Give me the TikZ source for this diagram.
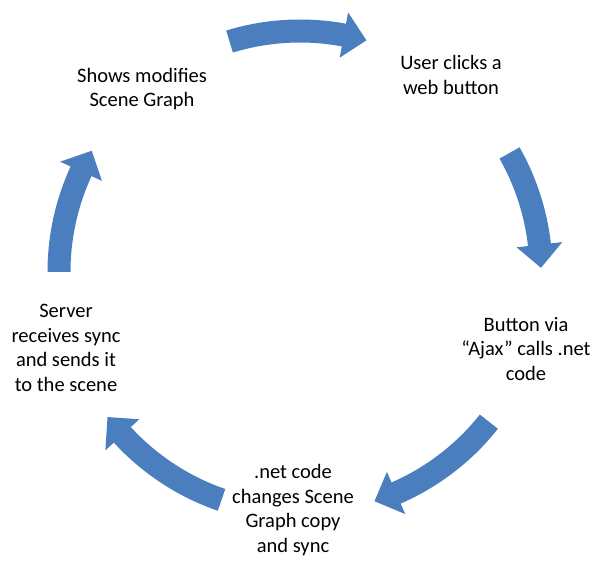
\documentclass[tikz,border=0pt]{standalone}
\usepackage{fontspec}
\setmainfont{Carlito}
\definecolor{arrowblue}{HTML}{4A7EBF}
\tikzset{
  lbl/.style={align=center, font=\fontsize{20.5}{24.5}\selectfont, text=black, inner sep=0pt},
  blockarrow/.style={fill=arrowblue, draw=none}
}
% #1 tail angle, #2 tip angle (clockwise: #1 > #2)
\newcommand{\cyclearrow}[2]{%
  \pgfmathsetmacro{\ah}{#2+5.5}%
  \fill[blockarrow] (#1:252.5) arc[start angle=#1, end angle=\ah, radius=252.5]
    -- (\ah:264) -- (#2:241) -- (\ah:218) -- (\ah:229.5)
    arc[start angle=\ah, end angle=#1, radius=229.5] -- cycle;}
\begin{document}
\begin{tikzpicture}[x=1pt,y=1pt]
\useasboundingbox (0,0) rectangle (595,571);
\begin{scope}[shift={(300,299)}]
  \cyclearrow{107}{74}
  \cyclearrow{29.6}{1}
  \cyclearrow{-38.4}{-72}
  \cyclearrow{-109}{-143}
  \cyclearrow{180}{149.8}
\end{scope}
\node[lbl] (shows) at (142,571-89) {Shows modifies\\Scene Graph};
\node[lbl] (user) at (451,571-75) {User clicks a\\web button};
\node[lbl] (button) at (526,571-349) {Button via\\“Ajax” calls .net\\code};
\node[lbl] (net) at (293,571-510) {.net code\\changes Scene\\Graph copy\\and sync};
\node[lbl] (server) at (66,571-348) {Server\\receives sync\\and sends it\\to the scene};
\end{tikzpicture}
\end{document}
